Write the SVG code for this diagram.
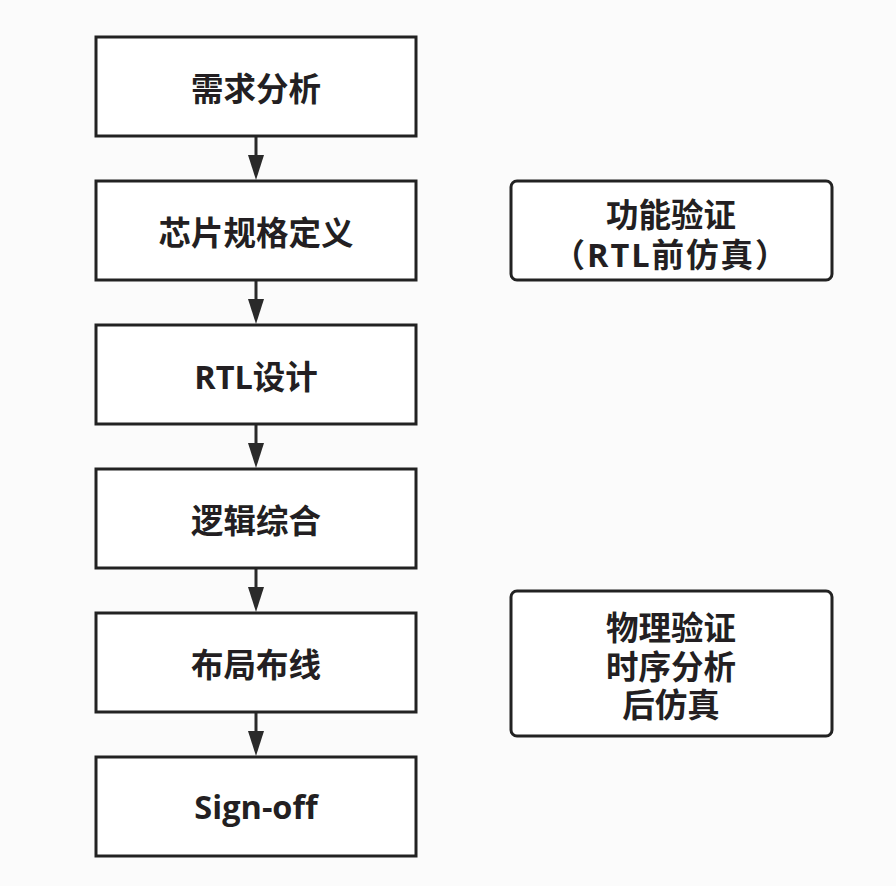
<svg xmlns="http://www.w3.org/2000/svg" width="896" height="886" viewBox="0 0 896 886">
<defs>
<style>
.box{fill:#ffffff;stroke:#222222;stroke-width:3}
.t{font-family:"Open Sans","Noto Sans CJK SC",sans-serif;font-weight:bold;font-size:32.5px;fill:#231f22;text-anchor:middle;dominant-baseline:central}
.c{stroke:#2a2a2a;stroke-width:3;fill:none}
.ah{fill:#2a2a2a}
</style>
</defs>
<rect width="896" height="886" fill="#fbfbfb"/>
<g id="connectors">
<line class="c" x1="256" y1="136" x2="256" y2="156"/><path class="ah" d="M248,155 L264,155 L256,180 Z"/>
<line class="c" x1="256" y1="280" x2="256" y2="300"/><path class="ah" d="M248,299 L264,299 L256,324 Z"/>
<line class="c" x1="256" y1="424" x2="256" y2="444"/><path class="ah" d="M248,443 L264,443 L256,468 Z"/>
<line class="c" x1="256" y1="568" x2="256" y2="588"/><path class="ah" d="M248,587 L264,587 L256,612 Z"/>
<line class="c" x1="256" y1="712" x2="256" y2="732"/><path class="ah" d="M248,731 L264,731 L256,756 Z"/>
</g>
<g id="n1"><rect class="box" x="96" y="37" width="320" height="99"/><text class="t" x="256" y="88">需求分析</text></g>
<g id="n2"><rect class="box" x="96" y="181" width="320" height="99"/><text class="t" x="256" y="232">芯片规格定义</text></g>
<g id="n3"><rect class="box" x="96" y="325" width="320" height="99"/><text class="t" x="256" y="376">RTL设计</text></g>
<g id="n4"><rect class="box" x="96" y="469" width="320" height="99"/><text class="t" x="256" y="520">逻辑综合</text></g>
<g id="n5"><rect class="box" x="96" y="613" width="320" height="99"/><text class="t" x="256" y="664">布局布线</text></g>
<g id="n6"><rect class="box" x="96" y="757" width="320" height="99"/><text class="t" x="256" y="806">Sign-off</text></g>
<g id="n7"><rect class="box" x="511" y="181" width="321" height="99" rx="6"/><text class="t" x="671" y="214">功能验证</text><text class="t" x="671" y="254" letter-spacing="2">（RTL前仿真）</text></g>
<g id="n8"><rect class="box" x="511" y="591" width="321" height="145" rx="6"/><text class="t" x="671" y="627">物理验证</text><text class="t" x="671" y="666">时序分析</text><text class="t" x="671" y="704">后仿真</text></g>
</svg>
